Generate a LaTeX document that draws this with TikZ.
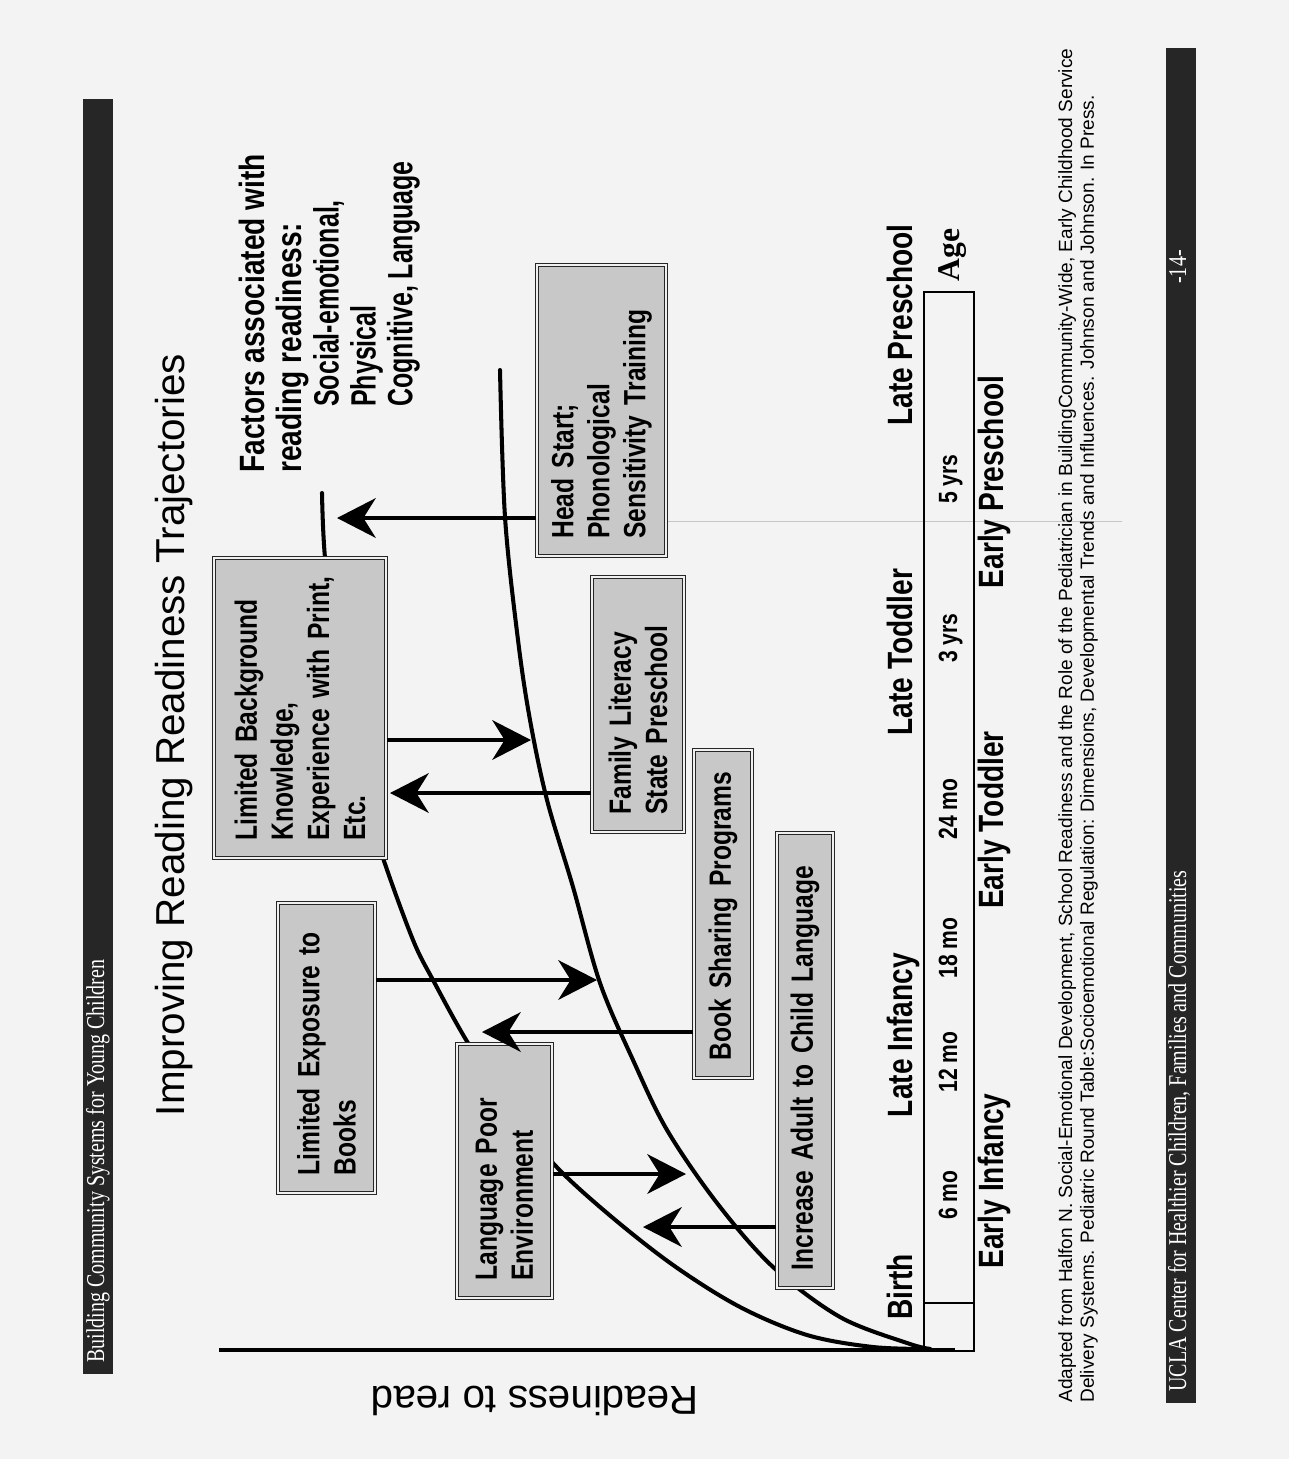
\documentclass[tikz,border=0pt]{standalone}
\usepackage{fontspec}
\setmainfont{Liberation Sans}
\newfontfamily\condbold{Liberation Sans}[FakeStretch=0.8]
\newfontfamily\narrowbold{Liberation Sans}[FakeStretch=0.71]
\newfontfamily\condserif{Liberation Serif}[FakeStretch=0.78]
\newfontfamily\plainserif{Liberation Serif}
\usetikzlibrary{positioning,arrows.meta}

\definecolor{paper}{RGB}{243,243,243}
\definecolor{boxgray}{RGB}{200,200,200}
\definecolor{bardark}{RGB}{38,38,38}

\begin{document}
\begin{tikzpicture}[
    x=0.02cm, y=-0.02cm,
    mybox/.style={
      rotate=90,
      draw=black!85,
      double=gray!12,
      double distance=1.4pt,
      line width=0.6pt,
      fill=boxgray,
      align=left,
      inner xsep=0.35cm,
      inner ysep=0pt,
      font=\condbold\bfseries\fontsize{17.5}{20.5}\selectfont
    },
    stagelabel/.style={
      rotate=90,
      anchor=base,
      inner sep=0pt,
      font=\condbold\bfseries\fontsize{20}{24}\selectfont
    },
    ticklabel/.style={
      rotate=90,
      anchor=base,
      inner sep=0pt,
      font=\condbold\bfseries\fontsize{15}{18}\selectfont
    },
    bartext/.style={
      rotate=90,
      inner sep=0pt,
      text=white,
      font=\condserif\fontsize{14.6}{17}\selectfont
    },
    trajectory/.style={
      line width=2.3pt,
      line cap=round
    },
    myarrow/.style={
      line width=2.3pt,
      -{Stealth[length=22pt,width=22.5pt,inset=7pt]}
    }
    ]
    % paper
    \fill[paper] (0,0) rectangle (1289,1459);
    \useasboundingbox (0,0) rectangle (1289,1459);

    % header and footer bars
    \fill[bardark] (83,99) rectangle (113,1374);
    \node[bartext,anchor=base west] (header) at (104,1363)
      {Building Community Systems for Young Children};
    \fill[bardark] (1166,48) rectangle (1196,1403);
    \node[bartext,anchor=base west] (footer) at (1186,1392)
      {UCLA Center for Healthier Children, Families and Communities};
    \node[bartext,anchor=base] (pagenum) at (1186,267) {-14-};

    % title
    \node[rotate=90,anchor=base,inner sep=0pt,font=\fontsize{23}{28}\selectfont]
      (title) at (184,735) {Improving Reading Readiness Trajectories};

    % factors
    \node[rotate=90,anchor=north west,inner sep=0pt,align=left,
      font=\condbold\bfseries\fontsize{20}{21}\selectfont] (factors) at (239,473)
      {Factors associated with\\
       reading readiness:\\
       \hspace*{1.32cm}{\narrowbold\bfseries Social-emotional,}\\
       \hspace*{1.32cm}{\narrowbold\bfseries Physical}\\
       \hspace*{1.32cm}{\narrowbold\bfseries Cognitive, Language}};

    % faint scan line
    \draw[gray!45,line width=0.4pt] (665,521) -- (1122,521);

    % axes
    \coordinate (origin) at (930,1349);
    \coordinate (readtop) at (219,1350);
    \coordinate (readend) at (955,1350);
    \draw[line width=2.4pt] (readtop) -- (readend);
    \node[rotate=180,inner sep=0pt,font=\fontsize{23}{28}\selectfont]
      (readlabel) at (535,1401) {Readiness to read};

    \node[draw,line width=0.85pt,minimum width=1cm,minimum height=21.18cm,
      inner sep=0pt] (agebar) at (949,821.5) {};
    \coordinate (birthmark) at (924,1303);
    \draw[line width=0.85pt] (birthmark) -- (birthmark -| agebar.east);
    \node[rotate=90,anchor=base,inner sep=0pt,
      font=\plainserif\bfseries\fontsize{18}{20}\selectfont] (agelabel) at (959,255) {Age};

    % trajectories
    \draw[trajectory] plot[smooth,tension=0.55] coordinates {
      (930,1349) (873,1347) (807,1335) (740,1307) (673,1265) (607,1213)
      (552,1162) (510,1105) (468,1043) (433,980) (413,940) (383,858)
      (358,776) (338,676) (325,558) (322,493)};
    \draw[trajectory] plot[smooth,tension=0.55] coordinates {
      (930,1349) (907,1343) (840,1317) (773,1267) (717,1203) (667,1130)
      (633,1060) (600,983) (573,887) (547,800) (530,720) (518,640)
      (505,517) (500,370)};

    % boxes
    \node[mybox,text width=5.1cm,minimum height=1.94cm] (limbooks) at (326.5,1048)
      {Limited Exposure to\\Books};
    \node[mybox,text width=4.38cm,minimum height=1.9cm] (langpoor) at (504.5,1171)
      {Language Poor\\Environment};
    \node[mybox,text width=5.3cm,minimum height=3.44cm] (limback) at (300,708)
      {Limited Background\\Knowledge,\\Experience with Print,\\Etc.};
    \node[mybox,text width=5.12cm,minimum height=2.58cm] (headstart) at (601.5,410.5)
      {Head Start;\\Phonological\\Sensitivity Training};
    \node[mybox,text width=4.4cm,minimum height=1.84cm] (famlit) at (638,704.5)
      {Family Literacy\\State Preschool};
    \node[mybox,text width=5.86cm,minimum height=1.16cm] (booksh) at (723,914)
      {Book Sharing Programs};
    \node[mybox,text width=8.4cm,minimum height=1.12cm] (incadult) at (805,1060.5)
      {Increase Adult to Child Language};

    % arrows
    \coordinate (tipa) at (686,1174);
    \coordinate (tipb) at (643,1227);
    \coordinate (tipc) at (597,980);
    \coordinate (tipd) at (482,1032);
    \coordinate (tipe) at (531,740);
    \coordinate (tipf) at (390,793);
    \coordinate (tipg) at (337,518);
    \draw[myarrow] (langpoor.south |- tipa) -- (tipa);
    \draw[myarrow] (incadult.north |- tipb) -- (tipb);
    \draw[myarrow] (limbooks.south |- tipc) -- (tipc);
    \draw[myarrow] (booksh.north |- tipd) -- (tipd);
    \draw[myarrow] (limback.south |- tipe) -- (tipe);
    \draw[myarrow] (famlit.north |- tipf) -- (tipf);
    \draw[myarrow] (headstart.north |- tipg) -- (tipg);

    % stages and ages
    \node[stagelabel] (birth) at (912,1287) {Birth};
    \node[stagelabel] (lateinf) at (912,1035) {Late Infancy};
    \node[stagelabel] (latetod) at (912,652) {Late Toddler};
    \node[stagelabel] (latepre) at (912,325) {Late Preschool};
    \node[stagelabel] (earlyinf) at (1003,1181) {Early Infancy};
    \node[stagelabel] (earlytod) at (1003,820) {Early Toddler};
    \node[stagelabel] (earlypre) at (1003,482) {Early Preschool};

    \node[ticklabel] (m6) at (957,1195) {6 mo};
    \node[ticklabel] (m12) at (957,1062) {12 mo};
    \node[ticklabel] (m18) at (957,948) {18 mo};
    \node[ticklabel] (m24) at (957,809) {24 mo};
    \node[ticklabel] (y3) at (957,638) {3 yrs};
    \node[ticklabel] (y5) at (957,479) {5 yrs};

    % source
    \node[rotate=90,anchor=north west,inner sep=0pt,align=left,
      font=\fontsize{10.85}{12.4}\selectfont] (source) at (1058,1403)
      {Adapted from Halfon N. Social-Emotional Development, School Readiness and the Role of the Pediatrician in BuildingCommunity-Wide, Early Childhood Service\\
       Delivery Systems. Pediatric Round Table:Socioemotional Regulation: Dimensions, Developmental Trends and Influences. Johnson and Johnson. In Press.};
\end{tikzpicture}
\end{document}
